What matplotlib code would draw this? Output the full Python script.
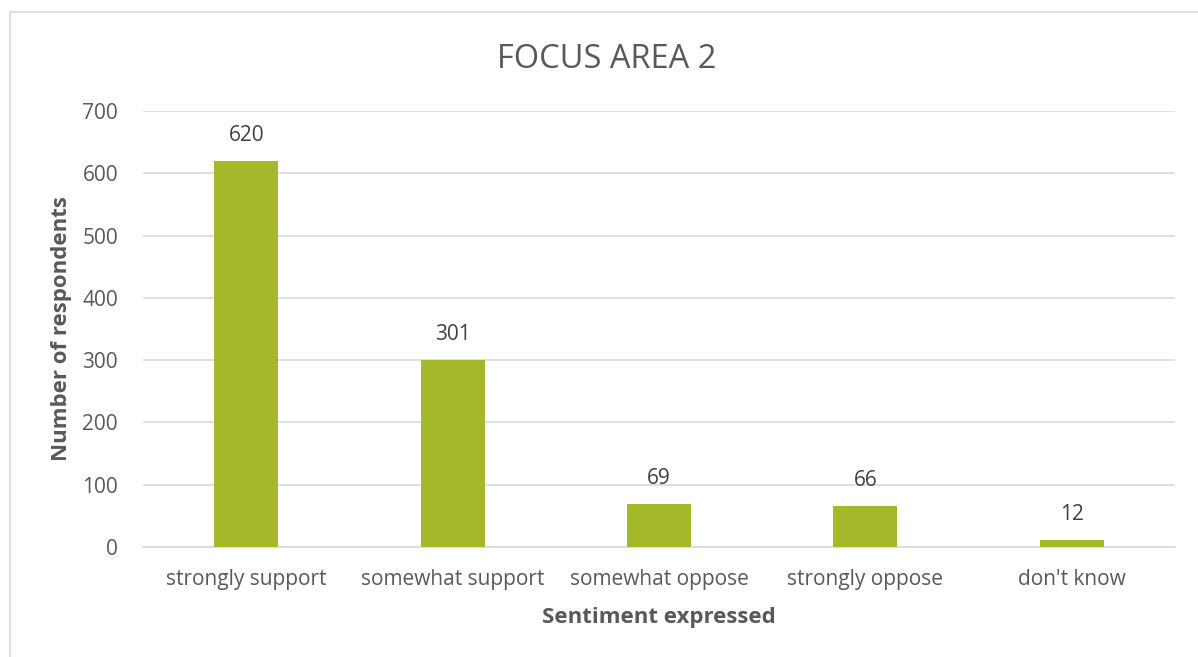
import matplotlib.pyplot as plt
from matplotlib.patches import Rectangle

categories = ['strongly support', 'somewhat support', 'somewhat oppose', 'strongly oppose', "don't know"]
counts = [620, 301, 69, 66, 12]
y_ticks = [0, 100, 200, 300, 400, 500, 600, 700]

plt.rcParams['font.family'] = ['Open Sans', 'DejaVu Sans']
text_color = '#595959'
bar_color = '#A5B82A'

fig = plt.figure(figsize=(11.98, 6.57), dpi=100)
ax = fig.add_axes([143 / 1198, 1 - 547 / 657, (1175 - 143) / 1198, (547 - 111) / 657])

# chart border
fig.patches.append(Rectangle((10 / 1198, -0.05), 1.2, 1 - 12 / 657 + 0.05,
                             transform=fig.transFigure, fill=False,
                             edgecolor='#D9D9D9', linewidth=1.2))

x = range(len(categories))
bars = ax.bar(x, counts, width=0.31, color=bar_color, zorder=3)
for b, v in zip(bars, counts):
    ax.annotate(str(v), (b.get_x() + b.get_width() / 2, v), xytext=(0, 10.5),
                textcoords='offset points', ha='center', va='bottom',
                fontsize=15, color='#404040')

ax.set_xlim(-0.5, len(categories) - 0.5)
ax.set_ylim(0, 700)
ax.set_yticks(y_ticks)
ax.set_xticks(list(x))
ax.set_xticklabels(categories)
ax.tick_params(axis='both', length=0, labelsize=15, labelcolor=text_color)
ax.tick_params(axis='y', pad=18)
ax.tick_params(axis='x', pad=15.5)
ax.grid(axis='y', color='#D9D9D9', linewidth=1.2, zorder=0)
for s in ['top', 'right', 'left']:
    ax.spines[s].set_visible(False)
ax.spines['bottom'].set_color('#D9D9D9')
ax.spines['bottom'].set_linewidth(1.2)

ax.set_xlabel('Sentiment expressed', fontsize=16, fontweight='bold', color=text_color)
ax.set_ylabel('Number of respondents', fontsize=16, fontweight='bold', color=text_color)
ax.xaxis.label.set_va('center')
ax.yaxis.label.set_va('center')
ax.xaxis.set_label_coords(0.5, -(617 - 547) / 436)
ax.yaxis.set_label_coords((62 - 143) / 1032, 0.5)
fig.text(607 / 1198, 1 - 59 / 657, 'FOCUS AREA 2', ha='center', va='center',
         fontsize=23.5, color=text_color)

plt.savefig('out.png', dpi=100)
